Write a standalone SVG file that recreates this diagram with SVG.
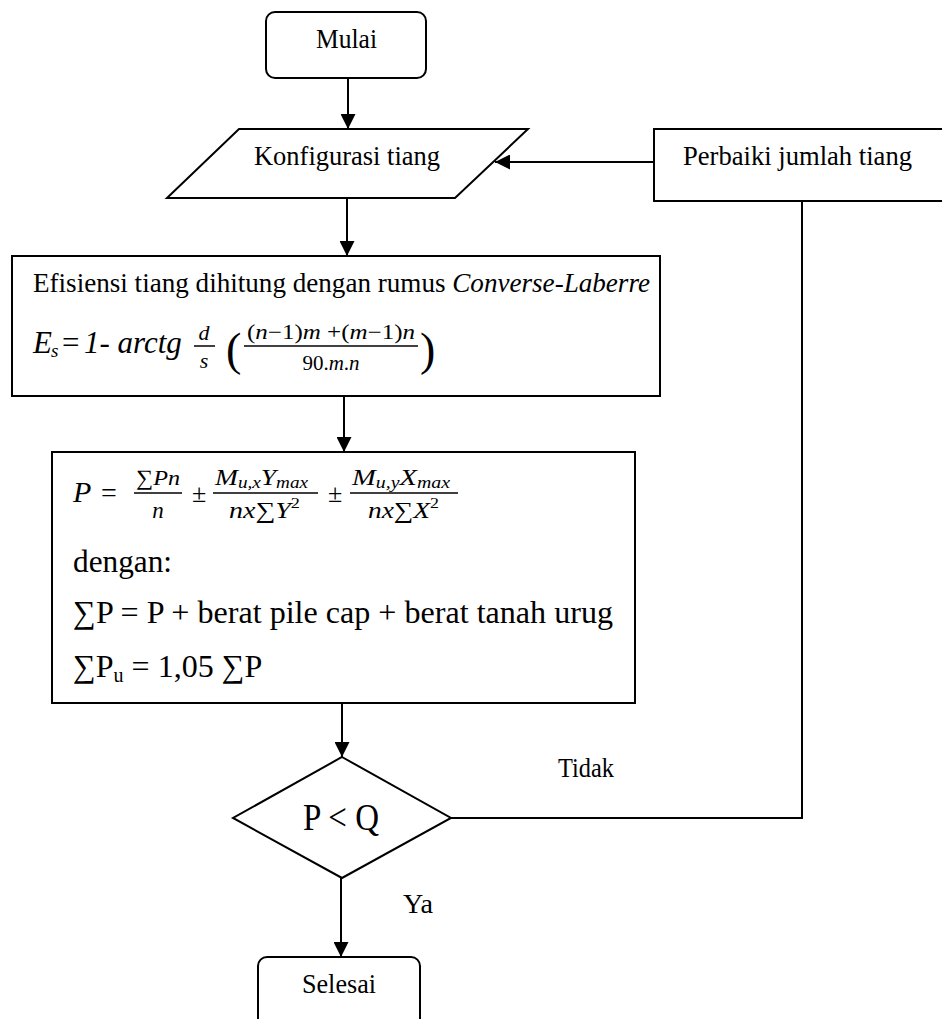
<svg xmlns="http://www.w3.org/2000/svg" width="942" height="1019" viewBox="0 0 942 1019">
  <style>
    .box { fill: #fff; stroke: #000; stroke-width: 2; }
    .wire { fill: none; stroke: #000; stroke-width: 2; }
    .bar { stroke: #000; stroke-width: 1.5; }
    .t { font-family: "Liberation Serif", "Times New Roman", serif; fill: #000; }
    .i { font-style: italic; }
    .n { font-style: normal; }
  </style>
  <defs>
    <marker id="head" markerUnits="userSpaceOnUse" markerWidth="16" markerHeight="15" refX="15" refY="7.5" orient="auto">
      <path d="M0,0 L15,7.5 L0,15 Z" fill="#000"/>
    </marker>
  </defs>

  <!-- connectors -->
  <g id="connectors">
    <line class="wire" x1="348" y1="78" x2="348" y2="129" marker-end="url(#head)"/>
    <line class="wire" x1="654" y1="162" x2="495" y2="162" marker-end="url(#head)"/>
    <line class="wire" x1="347" y1="198" x2="347" y2="256" marker-end="url(#head)"/>
    <line class="wire" x1="344" y1="396" x2="344" y2="452" marker-end="url(#head)"/>
    <line class="wire" x1="342" y1="703" x2="342" y2="757" marker-end="url(#head)"/>
    <line class="wire" x1="341" y1="878" x2="341" y2="957" marker-end="url(#head)"/>
    <polyline class="wire" points="451,818 802,818 802,201"/>
    <text class="t" x="558" y="777" font-size="27" textLength="56" lengthAdjust="spacingAndGlyphs">Tidak</text>
    <text class="t" x="403" y="913" font-size="27" textLength="30" lengthAdjust="spacingAndGlyphs">Ya</text>
  </g>

  <!-- start -->
  <g id="mulai">
    <rect class="box" x="266" y="12" width="160" height="66" rx="9"/>
    <text class="t" x="316" y="48" font-size="27" textLength="61" lengthAdjust="spacingAndGlyphs">Mulai</text>
  </g>

  <!-- input: pile configuration -->
  <g id="konfigurasi">
    <polygon class="box" points="239,129 528,129 455,198 167,198"/>
    <text class="t" x="254" y="165" font-size="28" textLength="186" lengthAdjust="spacingAndGlyphs">Konfigurasi tiang</text>
  </g>

  <!-- correction step -->
  <g id="perbaiki">
    <rect class="box" x="654" y="129" width="300" height="72"/>
    <text class="t" x="683" y="165" font-size="28" textLength="229" lengthAdjust="spacingAndGlyphs">Perbaiki jumlah tiang</text>
  </g>

  <!-- group efficiency -->
  <g id="efisiensi">
    <rect class="box" x="12" y="256" width="648" height="140"/>
    <text class="t" x="33" y="292" font-size="28" textLength="617" lengthAdjust="spacingAndGlyphs">Efisiensi tiang dihitung dengan rumus <tspan class="i">Converse-Laberre</tspan></text>
    <text class="t i" x="33" y="353" font-size="31">E</text>
    <text class="t i" x="51" y="357" font-size="19">s</text>
    <text class="t" x="62" y="353" font-size="31">=</text>
    <text class="t i" x="84" y="353" font-size="31">1- arctg</text>
    <text class="t i" x="204" y="340" font-size="22" text-anchor="middle">d</text>
    <line class="bar" x1="194" y1="346" x2="215" y2="346"/>
    <text class="t i" x="204" y="368" font-size="22" text-anchor="middle">s</text>
    <text class="t" x="226" y="365" font-size="46">(</text>
    <text class="t" x="247" y="339" font-size="21" textLength="168" lengthAdjust="spacingAndGlyphs">(<tspan class="i">n</tspan>−1)<tspan class="i">m</tspan> +(<tspan class="i">m</tspan>−1)<tspan class="i">n</tspan></text>
    <line class="bar" x1="244" y1="346" x2="418" y2="346"/>
    <text class="t" x="331" y="370" font-size="21" text-anchor="middle">90.<tspan class="i">m</tspan>.<tspan class="i">n</tspan></text>
    <text class="t" x="420" y="365" font-size="46">)</text>
  </g>

  <!-- pile load -->
  <g id="beban">
    <rect class="box" x="52" y="452" width="583" height="251"/>
    <text class="t i" x="73" y="502" font-size="30">P</text>
    <text class="t" x="101" y="502" font-size="28">=</text>
    <text class="t" x="136" y="485" font-size="22" textLength="44" lengthAdjust="spacingAndGlyphs">∑<tspan class="i">Pn</tspan></text>
    <line class="bar" x1="134" y1="493" x2="182" y2="493"/>
    <text class="t i" x="158" y="518" font-size="23" text-anchor="middle">n</text>
    <text class="t" x="192" y="502" font-size="26">±</text>
    <text class="t i" x="215" y="485" font-size="23" textLength="93" lengthAdjust="spacingAndGlyphs">M<tspan font-size="16" dy="3">u,x</tspan><tspan dy="-3">Y</tspan><tspan font-size="16" dy="3">max</tspan></text>
    <line class="bar" x1="213" y1="493" x2="318" y2="493"/>
    <text class="t i" x="229" y="518" font-size="23" textLength="71" lengthAdjust="spacingAndGlyphs">nx<tspan class="n">∑</tspan>Y<tspan class="n" font-size="15" dy="-10">2</tspan></text>
    <text class="t" x="328" y="502" font-size="26">±</text>
    <text class="t i" x="352" y="485" font-size="23" textLength="98" lengthAdjust="spacingAndGlyphs">M<tspan font-size="16" dy="3">u,y</tspan><tspan dy="-3">X</tspan><tspan font-size="16" dy="3">max</tspan></text>
    <line class="bar" x1="350" y1="493" x2="458" y2="493"/>
    <text class="t i" x="368" y="518" font-size="23" textLength="71" lengthAdjust="spacingAndGlyphs">nx<tspan class="n">∑</tspan>X<tspan class="n" font-size="15" dy="-10">2</tspan></text>
    <text class="t" x="73" y="572" font-size="32" textLength="99" lengthAdjust="spacingAndGlyphs">dengan:</text>
    <text class="t" x="73" y="623" font-size="32" textLength="540" lengthAdjust="spacingAndGlyphs">∑P = P + berat pile cap + berat tanah urug</text>
    <text class="t" x="73" y="677" font-size="32">∑P<tspan font-size="20" dy="5">u</tspan><tspan dy="-5"> = 1,05 ∑P</tspan></text>
  </g>

  <!-- decision -->
  <g id="keputusan">
    <polygon class="box" points="342,757 451,818 342,878 233,818"/>
    <text class="t" x="303" y="830" font-size="37" textLength="76" lengthAdjust="spacingAndGlyphs">P &lt; Q</text>
  </g>

  <!-- end -->
  <g id="selesai">
    <rect class="box" x="258" y="957" width="162" height="90" rx="9"/>
    <text class="t" x="302" y="993" font-size="27" textLength="74" lengthAdjust="spacingAndGlyphs">Selesai</text>
  </g>
</svg>
